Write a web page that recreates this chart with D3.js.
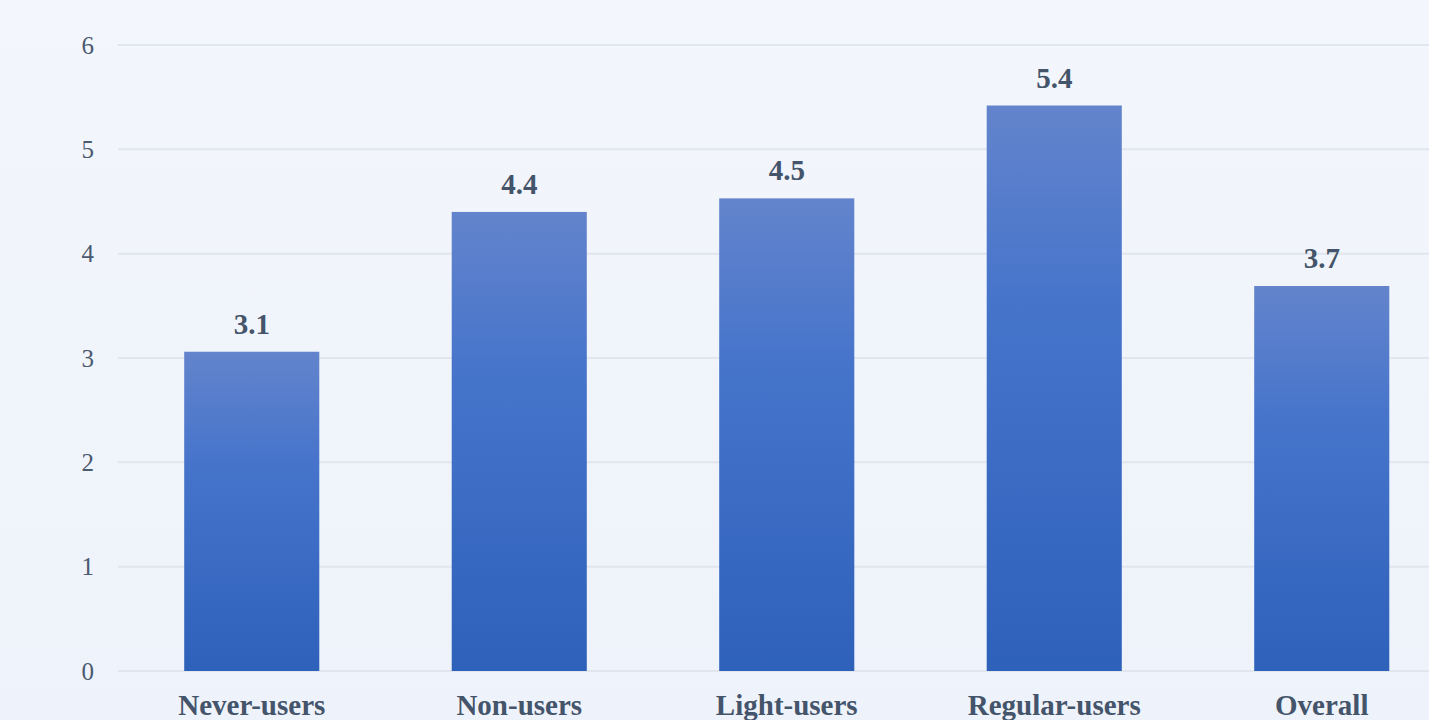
<!DOCTYPE html>
<html><head><meta charset="utf-8">
<script src="https://cdn.jsdelivr.net/npm/d3@7"></script>
<style>html,body{margin:0;padding:0;}svg{display:block;}</style>
</head><body>
<svg id="chart" width="1429" height="720"></svg>
<script>
const categories = ["Never-users", "Non-users", "Light-users", "Regular-users", "Overall"];
const values = [3.06, 4.40, 4.53, 5.42, 3.69];
const yTicks = [0, 1, 2, 3, 4, 5, 6];

const W = 1429, H = 720;
const margin = {left: 118, right: -26.5, top: 45, bottom: 49};
const FONT = "'Liberation Serif', 'Times New Roman', Times, serif";
const svg = d3.select("#chart");
const defs = svg.append("defs");
const bg = defs.append("linearGradient").attr("id","bg").attr("x1",0).attr("x2",0).attr("y1",0).attr("y2",1);
bg.append("stop").attr("offset","0%").attr("stop-color","#f3f6fc");
bg.append("stop").attr("offset","100%").attr("stop-color","#eef2fa");
const bar = defs.append("linearGradient").attr("id","bar").attr("x1",0).attr("x2",0).attr("y1",0).attr("y2",1);
bar.append("stop").attr("offset","0%").attr("stop-color","#6384cc");
bar.append("stop").attr("offset","35%").attr("stop-color","#4674cb");
bar.append("stop").attr("offset","100%").attr("stop-color","#2e61ba");

svg.append("rect").attr("width",W).attr("height",H).attr("fill","url(#bg)");

const x = d3.scaleBand().domain(categories).range([margin.left, W - margin.right]).paddingInner(0.495).paddingOuter(0.2475);
const y = d3.scaleLinear().domain([0,6]).range([H - margin.bottom, margin.top]);

const grid = svg.append("g");
grid.selectAll("line").data(yTicks).join("line")
  .attr("x1", margin.left).attr("x2", W)
  .attr("y1", d => y(d)).attr("y2", d => y(d))
  .attr("stroke", "#e0e5ee").attr("stroke-width", 2);

const yAxis = d3.axisLeft(y).tickValues(yTicks).tickFormat(d3.format("d")).tickSize(0).tickPadding(0);
const ya = svg.append("g").attr("transform", `translate(94,0)`).call(yAxis);
ya.select(".domain").remove();
ya.selectAll("text").style("font-family",FONT).style("font-size","25px").attr("fill","#4a5a70");

svg.append("g").selectAll("text").data(values).join("text")
  .attr("x", (d,i) => x(categories[i]) + x.bandwidth()/2)
  .attr("y", d => y(d) - 18)
  .attr("text-anchor","middle")
  .style("font-family",FONT).style("font-weight","bold").style("font-size","29px")
  .attr("fill","#44546a")
  .text(d => d.toFixed(1));

svg.append("g").selectAll("rect").data(values).join("rect")
  .attr("x", (d,i) => x(categories[i]))
  .attr("width", x.bandwidth())
  .attr("y", d => y(d))
  .attr("height", d => y(0) - y(d))
  .attr("fill", "url(#bar)");

const xAxis = d3.axisBottom(x).tickSize(0).tickPadding(0);
const xa = svg.append("g").attr("transform", `translate(0,${H - margin.bottom})`).call(xAxis);
xa.select(".domain").remove();
xa.selectAll("text").attr("dy", null).attr("y", 44)
  .style("font-family",FONT).style("font-weight","bold").style("font-size","29px").attr("fill","#44546a");
</script>
</body></html>
